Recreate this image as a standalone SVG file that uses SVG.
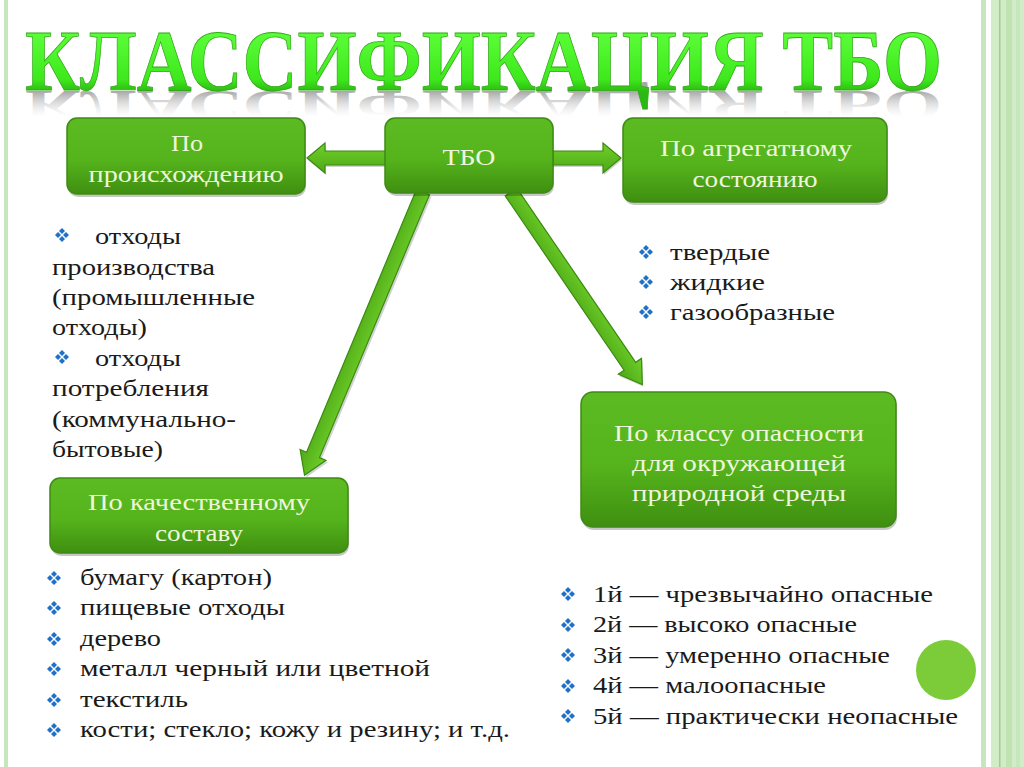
<svg xmlns="http://www.w3.org/2000/svg" width="1024" height="767" viewBox="0 0 1024 767">
<style>
.t{fill:#1a1a1a}
.bx{fill:#eef7dc;text-anchor:middle}
.box{fill:url(#gb);stroke:#3f8a14;stroke-width:1.5}
.bsh{fill:#000;opacity:0.22}
.arr{fill:url(#ga);stroke:#3a8a10;stroke-width:1.2}
.ash{fill:#000;opacity:0.18}
</style>
<defs>
<linearGradient id="gb" x1="0" y1="0" x2="0" y2="1">
<stop offset="0" stop-color="#5cba22"/>
<stop offset="0.55" stop-color="#55b31c"/>
<stop offset="1" stop-color="#3f8f10"/>
</linearGradient>
<linearGradient id="ga" x1="0" y1="0" x2="0" y2="1">
<stop offset="0" stop-color="#6fd02a"/>
<stop offset="1" stop-color="#4ea816"/>
</linearGradient>
<linearGradient id="gt" gradientUnits="userSpaceOnUse" x1="0" y1="30" x2="0" y2="92">
<stop offset="0" stop-color="#5cff3a"/>
<stop offset="0.8" stop-color="#3ee81c"/>
<stop offset="1" stop-color="#2cb812"/>
</linearGradient>
<linearGradient id="gr" gradientUnits="userSpaceOnUse" x1="0" y1="90" x2="0" y2="38">
<stop offset="0" stop-color="#808080" stop-opacity="0.7"/>
<stop offset="1" stop-color="#d0d0d0" stop-opacity="0"/>
</linearGradient>
<symbol id="b" viewBox="0 0 14 14">
<g fill="#1f70c8">
<polygon points="7,0 10,3 7,6 4,3"/>
<polygon points="0,7 3,4 6,7 3,10"/>
<polygon points="8,7 11,4 14,7 11,10"/>
<polygon points="7,8 10,11 7,14 4,11"/>
</g>
</symbol>
</defs>
<rect width="1024" height="767" fill="#ffffff"/>
<!-- borders -->
<rect x="4" y="0" width="4" height="767" fill="#c6e6bc"/>
<rect x="981" y="0" width="5" height="767" fill="#c6e6bc"/>
<rect x="991" y="0" width="33" height="767" fill="#d2ecc8"/>
<rect x="999" y="0" width="1.5" height="767" fill="#9ccf8c"/>
<rect x="1006" y="0" width="6" height="767" fill="#c0e3b2"/>
<rect x="1016" y="0" width="4" height="767" fill="#c6e6bc"/>
<!-- title -->
<g id="title">
<g transform="translate(0,91) scale(1,-0.5) translate(0,-90)">
<text font-family="Liberation Serif" font-weight="bold" font-size="86" x="25" y="90" textLength="917" lengthAdjust="spacingAndGlyphs" fill="url(#gr)">КЛАССИФИКАЦИЯ ТБО</text>
</g>
<text font-family="Liberation Serif" font-weight="bold" font-size="86" x="25" y="90" textLength="917" lengthAdjust="spacingAndGlyphs" fill="url(#gt)" stroke="#34a81a" stroke-width="0.8">КЛАССИФИКАЦИЯ ТБО</text>
</g>
<!-- connectors -->
<g id="connectors">
<polygon class="ash" transform="translate(1,2)" points="307,158 325,143 325,151 386,151 386,165 325,165 325,173"/>
<polygon class="arr" points="307,158 325,143 325,151 386,151 386,165 325,165 325,173"/>
<polygon class="ash" transform="translate(1,2)" points="552,151 603,151 603,143 621,158 603,173 603,165 552,165"/>
<polygon class="arr" points="552,151 603,151 603,143 621,158 603,173 603,165 552,165"/>
<polygon class="ash" transform="translate(425,194) rotate(112.7)" points="0,-7 285,-7 285,-14 307,0 285,14 285,7 0,7"/>
<polygon class="arr" transform="translate(423,192) rotate(112.7)" points="0,-7 285,-7 285,-14 307,0 285,14 285,7 0,7"/>
<polygon class="ash" transform="translate(512,194) rotate(55.7)" points="0,-7 211,-7 211,-14 233,0 211,14 211,7 0,7"/>
<polygon class="arr" transform="translate(511,192) rotate(55.7)" points="0,-7 211,-7 211,-14 233,0 211,14 211,7 0,7"/>
</g>
<!-- nodes -->
<g id="n-origin">
<rect class="bsh" x="68" y="121" width="238" height="76" rx="10"/>
<rect class="box" x="67" y="118" width="238" height="76" rx="10"/>
<text class="bx" font-family="Liberation Serif" font-size="24" x="187" y="151" textLength="32" lengthAdjust="spacingAndGlyphs">По</text>
<text class="bx" font-family="Liberation Serif" font-size="24" x="186" y="182" textLength="195" lengthAdjust="spacingAndGlyphs">происхождению</text>
</g>
<g id="n-tbo">
<rect class="bsh" x="386" y="121" width="168" height="75" rx="10"/>
<rect class="box" x="385" y="118" width="168" height="75" rx="10"/>
<text class="bx" font-family="Liberation Serif" font-size="24" x="469" y="165" textLength="53" lengthAdjust="spacingAndGlyphs">ТБО</text>
</g>
<g id="n-state">
<rect class="bsh" x="624" y="121" width="264" height="84" rx="10"/>
<rect class="box" x="623" y="118" width="264" height="84" rx="10"/>
<text class="bx" font-family="Liberation Serif" font-size="24" x="756" y="156" textLength="192" lengthAdjust="spacingAndGlyphs">По агрегатному</text>
<text class="bx" font-family="Liberation Serif" font-size="24" x="755" y="187" textLength="125" lengthAdjust="spacingAndGlyphs">состоянию</text>
</g>
<g id="n-composition">
<rect class="bsh" x="51" y="481" width="298" height="75" rx="10"/>
<rect class="box" x="50" y="478" width="298" height="75" rx="10"/>
<text class="bx" font-family="Liberation Serif" font-size="24" x="199" y="510" textLength="222" lengthAdjust="spacingAndGlyphs">По качественному</text>
<text class="bx" font-family="Liberation Serif" font-size="24" x="199" y="541" textLength="88" lengthAdjust="spacingAndGlyphs">составу</text>
</g>
<g id="n-hazard">
<rect class="bsh" x="582" y="395" width="315" height="135" rx="12"/>
<rect class="box" x="581" y="392" width="315" height="135" rx="12"/>
<text class="bx" font-family="Liberation Serif" font-size="24" x="739" y="441" textLength="250" lengthAdjust="spacingAndGlyphs">По классу опасности</text>
<text class="bx" font-family="Liberation Serif" font-size="24" x="739" y="471" textLength="214" lengthAdjust="spacingAndGlyphs">для окружающей</text>
<text class="bx" font-family="Liberation Serif" font-size="24" x="739" y="501" textLength="214" lengthAdjust="spacingAndGlyphs">природной среды</text>
</g>
<!-- lists -->
<g id="list-origin">
<use href="#b" x="55" y="228" width="14" height="14"/>
<text class="t" font-family="Liberation Serif" font-size="24" x="95" y="244" textLength="86" lengthAdjust="spacingAndGlyphs">отходы</text>
<text class="t" font-family="Liberation Serif" font-size="24" x="52" y="275" textLength="163" lengthAdjust="spacingAndGlyphs">производства</text>
<text class="t" font-family="Liberation Serif" font-size="24" x="52" y="305" textLength="203" lengthAdjust="spacingAndGlyphs">(промышленные</text>
<text class="t" font-family="Liberation Serif" font-size="24" x="52" y="335" textLength="95" lengthAdjust="spacingAndGlyphs">отходы)</text>
<use href="#b" x="55" y="350" width="14" height="14"/>
<text class="t" font-family="Liberation Serif" font-size="24" x="95" y="366" textLength="86" lengthAdjust="spacingAndGlyphs">отходы</text>
<text class="t" font-family="Liberation Serif" font-size="24" x="52" y="396" textLength="157" lengthAdjust="spacingAndGlyphs">потребления</text>
<text class="t" font-family="Liberation Serif" font-size="24" x="52" y="427" textLength="184" lengthAdjust="spacingAndGlyphs">(коммунально-</text>
<text class="t" font-family="Liberation Serif" font-size="24" x="52" y="457" textLength="111" lengthAdjust="spacingAndGlyphs">бытовые)</text>
</g>
<g id="list-state">
<use href="#b" x="639" y="245" width="14" height="14"/>
<text class="t" font-family="Liberation Serif" font-size="24" x="670" y="260" textLength="100" lengthAdjust="spacingAndGlyphs">твердые</text>
<use href="#b" x="639" y="275" width="14" height="14"/>
<text class="t" font-family="Liberation Serif" font-size="24" x="670" y="290" textLength="95" lengthAdjust="spacingAndGlyphs">жидкие</text>
<use href="#b" x="639" y="305" width="14" height="14"/>
<text class="t" font-family="Liberation Serif" font-size="24" x="670" y="320" textLength="165" lengthAdjust="spacingAndGlyphs">газообразные</text>
</g>
<g id="list-composition">
<use href="#b" x="47" y="571" width="14" height="14"/>
<text class="t" font-family="Liberation Serif" font-size="24" x="80" y="585" textLength="192" lengthAdjust="spacingAndGlyphs">бумагу (картон)</text>
<use href="#b" x="47" y="601" width="14" height="14"/>
<text class="t" font-family="Liberation Serif" font-size="24" x="80" y="615" textLength="205" lengthAdjust="spacingAndGlyphs">пищевые отходы</text>
<use href="#b" x="47" y="632" width="14" height="14"/>
<text class="t" font-family="Liberation Serif" font-size="24" x="80" y="646" textLength="81" lengthAdjust="spacingAndGlyphs">дерево</text>
<use href="#b" x="47" y="662" width="14" height="14"/>
<text class="t" font-family="Liberation Serif" font-size="24" x="80" y="676" textLength="350" lengthAdjust="spacingAndGlyphs">металл черный или цветной</text>
<use href="#b" x="47" y="693" width="14" height="14"/>
<text class="t" font-family="Liberation Serif" font-size="24" x="80" y="707" textLength="108" lengthAdjust="spacingAndGlyphs">текстиль</text>
<use href="#b" x="47" y="723" width="14" height="14"/>
<text class="t" font-family="Liberation Serif" font-size="24" x="80" y="737" textLength="430" lengthAdjust="spacingAndGlyphs">кости; стекло; кожу и резину; и т.д.</text>
</g>
<g id="list-hazard">
<use href="#b" x="561" y="587" width="14" height="14"/>
<text class="t" font-family="Liberation Serif" font-size="24" x="593" y="602" textLength="340" lengthAdjust="spacingAndGlyphs">1й — чрезвычайно опасные</text>
<use href="#b" x="561" y="618" width="14" height="14"/>
<text class="t" font-family="Liberation Serif" font-size="24" x="593" y="632" textLength="264" lengthAdjust="spacingAndGlyphs">2й — высоко опасные</text>
<use href="#b" x="561" y="648" width="14" height="14"/>
<text class="t" font-family="Liberation Serif" font-size="24" x="593" y="663" textLength="297" lengthAdjust="spacingAndGlyphs">3й — умеренно опасные</text>
<use href="#b" x="561" y="679" width="14" height="14"/>
<text class="t" font-family="Liberation Serif" font-size="24" x="593" y="693" textLength="233" lengthAdjust="spacingAndGlyphs">4й — малоопасные</text>
<use href="#b" x="561" y="709" width="14" height="14"/>
<text class="t" font-family="Liberation Serif" font-size="24" x="593" y="724" textLength="365" lengthAdjust="spacingAndGlyphs">5й — практически неопасные</text>
</g>
<circle cx="946" cy="670" r="30" fill="#7ccc3a"/>
</svg>
